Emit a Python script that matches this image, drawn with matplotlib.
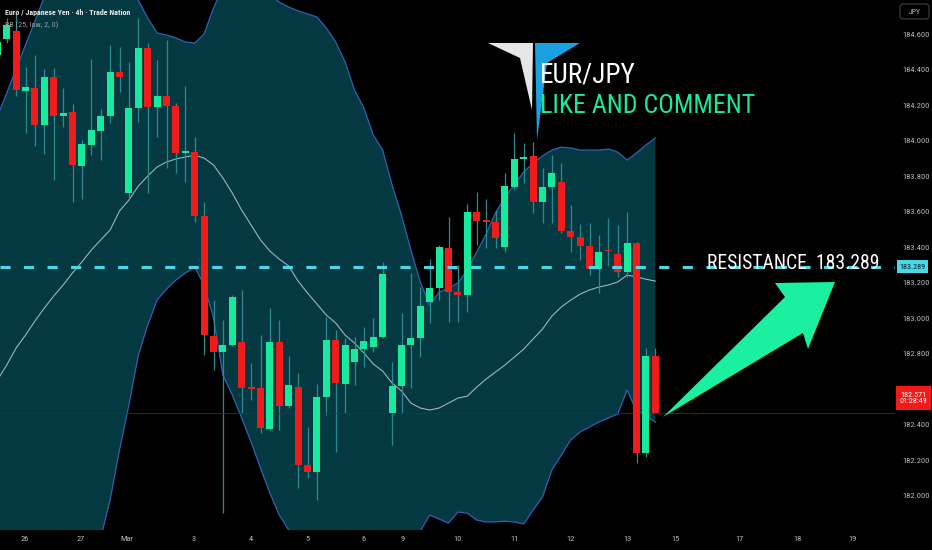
import matplotlib
matplotlib.use('Agg')
import numpy as np
import matplotlib.pyplot as plt
from matplotlib import font_manager
from matplotlib.patches import Polygon, Rectangle, FancyBboxPatch

# EUR/JPY 4h candles, index -1 is the cut one at the left edge
idx = np.arange(-1, 70)
opens = [184.482,
         184.570, 184.617, 184.281, 184.296, 184.087, 184.356, 184.140, 184.161, 183.858, 183.975,
         184.055, 184.138, 184.388, 183.703, 184.181, 184.519, 184.190, 184.251, 184.194, 183.930,
         183.937, 183.575, 182.899, 182.810, 182.848, 182.866, 182.610, 182.604, 182.375, 182.866,
         182.504, 182.610, 182.172, 182.134, 182.557, 182.876, 182.628, 182.754, 182.824, 182.835,
         182.895, 182.463, 182.617, 182.848, 182.886, 183.092, 183.167, 183.392, 183.145, 183.130,
         183.599, 183.545, 183.543, 183.402, 183.740, 183.896, 183.913, 183.656, 183.736, 183.768,
         183.493, 183.456, 183.404, 183.276, 183.380, 183.359, 183.261, 183.421, 182.238, 182.786]
highs = [184.600,
         184.690, 184.718, 184.416, 184.482, 184.403, 184.407, 184.294, 184.206, 184.003, 184.457,
         184.176, 184.538, 184.528, 184.444, 184.688, 184.548, 184.454, 184.566, 184.210, 184.307,
         184.021, 183.655, 183.101, 182.989, 183.130, 183.158, 182.745, 182.904, 183.055, 182.989,
         182.786, 182.688, 182.388, 182.628, 183.007, 182.932, 182.886, 182.895, 182.948, 182.998,
         183.317, 182.754, 183.026, 183.252, 183.176, 183.331, 183.411, 183.571, 183.299, 183.642,
         183.712, 183.669, 183.608, 183.815, 184.044, 183.984, 183.993, 183.843, 183.918, 183.872,
         183.637, 183.530, 183.534, 183.468, 183.562, 183.524, 183.599, 183.430, 182.829, 182.831]
lows = [184.450,
        184.550, 184.252, 184.044, 183.971, 183.924, 183.777, 184.078, 183.652, 183.670, 183.918,
        183.890, 184.097, 184.275, 183.674, 184.106, 183.703, 184.021, 183.843, 183.815, 183.768,
        183.543, 182.792, 182.707, 181.900, 182.840, 182.465, 182.540, 182.350, 182.369, 182.369,
        182.493, 182.041, 182.097, 181.975, 182.454, 182.247, 182.463, 182.623, 182.726, 182.810,
        182.886, 182.284, 182.463, 182.604, 182.779, 182.970, 183.101, 182.979, 182.979, 183.036,
        183.411, 183.393, 183.393, 183.373, 183.721, 183.759, 183.590, 183.537, 183.534, 183.477,
        183.374, 183.327, 183.242, 183.139, 183.299, 183.233, 183.233, 182.181, 182.219, 182.465]
closes = [184.555,
          184.651, 184.284, 184.300, 184.087, 184.359, 184.140, 184.153, 183.862, 183.979, 184.057,
          184.138, 184.386, 184.359, 184.185, 184.519, 184.190, 184.251, 184.194, 183.928, 183.937,
          183.575, 182.904, 182.810, 182.848, 183.120, 182.604, 182.600, 182.379, 182.866, 182.504,
          182.623, 182.172, 182.134, 182.557, 182.876, 182.632, 182.848, 182.824, 182.872, 182.895,
          183.248, 182.617, 182.848, 182.886, 183.068, 183.167, 183.398, 183.148, 183.130, 183.599,
          183.548, 183.540, 183.449, 183.744, 183.894, 183.909, 183.656, 183.740, 183.815, 183.493,
          183.456, 183.404, 183.276, 183.374, 183.375, 183.261, 183.421, 182.238, 182.786, 182.465]
# candle colour flags: 1 green, 0 red (dojis as seen on chart)
up = [1,
      1, 0, 1, 0, 1, 0, 1, 0, 1, 1,
      1, 1, 0, 1, 1, 0, 1, 0, 0, 1,
      0, 0, 0, 1, 1, 0, 0, 0, 1, 0,
      1, 0, 0, 1, 1, 0, 1, 1, 1, 1,
      1, 1, 1, 1, 1, 1, 1, 0, 0, 1,
      0, 0, 0, 1, 1, 1, 0, 1, 1, 0,
      0, 0, 0, 1, 0, 0, 1, 0, 1, 0]

# Bollinger bands (25, low, 2) as drawn
bb_upper = [184.133,
            184.268, 184.403, 184.538, 184.673, 184.809, 184.920, 184.980, 185.020, 185.040, 185.040,
            185.020, 184.980, 184.920, 184.860, 184.790, 184.690, 184.606, 184.594, 184.578, 184.555,
            184.549, 184.600, 184.747, 184.860, 184.920, 184.950, 184.930, 184.880, 184.820, 184.780,
            184.752, 184.730, 184.713, 184.696, 184.634, 184.555, 184.442, 184.285, 184.183, 184.031,
            183.946, 183.749, 183.580, 183.383, 183.203, 183.073, 183.146, 183.169, 183.197, 183.270,
            183.372, 183.473, 183.592, 183.682, 183.749, 183.823, 183.873, 183.913, 183.946, 183.963,
            183.958, 183.946, 183.946, 183.946, 183.952, 183.935, 183.890, 183.930, 183.975, 184.014]
bb_lower = [181.520,
            181.500, 181.450, 181.400, 181.400, 181.420, 181.450, 181.500, 181.550, 181.600, 181.680,
            181.760, 181.975, 182.256, 182.510, 182.790, 182.960, 183.101, 183.163, 183.214, 183.253,
            183.287, 183.186, 183.000, 182.679, 182.566, 182.437, 182.301, 182.155, 182.014, 181.890,
            181.806, 181.700, 181.620, 181.550, 181.500, 181.480, 181.480, 181.500, 181.550, 181.600,
            181.660, 181.720, 181.780, 181.770, 181.800, 181.890, 181.868, 181.845, 181.907, 181.901,
            181.862, 181.851, 181.851, 181.856, 181.851, 181.840, 181.918, 181.992, 182.144, 182.228,
            182.313, 182.358, 182.386, 182.414, 182.437, 182.459, 182.594, 182.476, 182.448, 182.414]
bb_basis = [182.650,
            182.735, 182.831, 182.904, 182.983, 183.056, 183.124, 183.186, 183.254, 183.316, 183.383,
            183.440, 183.496, 183.603, 183.665, 183.743, 183.800, 183.851, 183.879, 183.896, 183.907,
            183.918, 183.901, 183.862, 183.789, 183.704, 183.608, 183.524, 183.440, 183.377, 183.332,
            183.293, 183.208, 183.141, 183.079, 183.017, 182.972, 182.904, 182.859, 182.803, 182.741,
            182.701, 182.634, 182.589, 182.521, 182.493, 182.482, 182.493, 182.521, 182.549, 182.560,
            182.611, 182.656, 182.696, 182.735, 182.780, 182.825, 182.882, 182.938, 183.011, 183.062,
            183.101, 183.135, 183.158, 183.175, 183.186, 183.203, 183.242, 183.231, 183.219, 183.208]

resistance = 183.289
last_line = 182.465
last_price = "182.571"
countdown = "01:28:49"

date_labels = ['26', '27', 'Mar', '3', '4', '5', '6', '9', '10', '11', '12', '13', '15', '17', '18', '19']
date_pos = [1.95, 7.9, 12.8, 19.9, 26.0, 32.0, 38.0, 42.1, 48.0, 54.0, 60.0, 66.0, 71.1, 78.0, 84.1, 90.0]
price_ticks = np.arange(182.0, 184.61, 0.2)

names = {f.name for f in font_manager.fontManager.ttflist}
narrow = 'Roboto'
for cand in ['Liberation Sans Narrow', 'Roboto Condensed', 'DejaVu Sans Condensed',
             'Open Sans Condensed', 'Roboto']:
    if cand in names:
        narrow = cand
        break

GREEN = '#17ea9c'
RED = '#f01b1b'
WICK = '#2a8a90'
FILL = '#053942'
BAND = '#2f62b3'
BASIS = '#9db3b8'
CYAN = '#48d8e8'
AXTXT = '#b8bcc6'

W, H = 932, 550
fig = plt.figure(figsize=(W / 100, H / 100), dpi=100, facecolor='black')
ax = fig.add_axes([0, 20 / H, 895 / W, 530 / H])
ax.set_facecolor('black')

x = idx
ax.fill_between(x, bb_lower, bb_upper, color=FILL, lw=0, zorder=1)
ax.plot(x, bb_upper, color=BAND, lw=0.9, zorder=2)
ax.plot(x, bb_lower, color=BAND, lw=0.9, zorder=2)
ax.plot(x, bb_basis, color=BASIS, lw=0.8, zorder=2)

o = np.array(opens); c = np.array(closes)
cols = [GREEN if u else RED for u in up]
ax.vlines(x, lows, highs, color=WICK, lw=0.9, zorder=3)
ax.bar(x, np.maximum(np.abs(c - o), 0.011), bottom=np.minimum(o, c), width=0.74,
       color=cols, lw=0, zorder=4)

ax.axhline(last_line, color='#7a1212', lw=0.6, zorder=3)
ax.axhline(resistance, color=CYAN, lw=2.2, ls=(0, (3.3, 4.4)), zorder=5)

ax.set_xlim(-0.713, 94.5)
ax.set_ylim(181.806, 184.7916)
for s in ax.spines.values():
    s.set_visible(False)
ax.yaxis.tick_right()
ax.set_yticks(price_ticks)
# 182.600 sits under the last-price tag on the reference
ax.set_yticklabels(['' if abs(p - 182.6) < 1e-6 else f'{p:.3f}' for p in price_ticks])
ax.set_xticks(date_pos)
ax.set_xticklabels(date_labels)
ax.tick_params(axis='both', length=0, colors=AXTXT, labelsize=6.0)
ax.tick_params(axis='y', pad=5)
ax.tick_params(axis='x', pad=4)
for t in ax.get_xticklabels() + ax.get_yticklabels():
    t.set_family(narrow)

# overlay in pixel coords for the drawn annotations
ov = fig.add_axes([0, 0, 1, 1], zorder=10)
ov.set_xlim(0, W)
ov.set_ylim(H, 0)
ov.axis('off')

renderer = fig.canvas.get_renderer()


def fit(t, width):
    # shrink/grow the font so the text spans about the same pixels as on the reference
    w = t.get_window_extent(renderer).width
    t.set_fontsize(t.get_fontsize() * width / w)


t1 = ov.text(5, 15, 'Euro / Japanese Yen · 4h · Trade Nation', color='#e8e8e8', fontsize=6.4,
             fontweight='bold', family=narrow, va='baseline')
fit(t1, 125)
t2 = ov.text(5, 27, 'BB (25, low, 2, 0)', color='#9aa0a8', fontsize=6.4, family=narrow,
             va='baseline')
fit(t2, 52)

# logo
ov.add_patch(Polygon([(488, 43), (533, 43), (532, 110), (520, 58)], closed=True,
                     fc='#e6e6e6', ec='none'))
ov.add_patch(Polygon([(535, 43), (580, 43), (547, 63), (537, 140)], closed=True,
                     fc='#1ba1e2', ec='none'))
t3 = ov.text(540, 83, 'EUR/JPY', color='white', fontsize=20, family=narrow, va='baseline')
fit(t3, 95)
t4 = ov.text(540, 113, 'LIKE AND COMMENT', color=GREEN, fontsize=19, family=narrow,
             va='baseline')
fit(t4, 215)

t5 = ov.text(707, 269, 'RESISTANCE  183.289', color='white', fontsize=15, family=narrow,
             va='baseline')
fit(t5, 172)

# arrow
ov.add_patch(Polygon([(663, 417), (785, 297), (775, 283), (835, 282), (808, 349), (803, 333)],
                     closed=True, fc='#1af09f', ec='none'))

# price axis tags
ov.add_patch(Rectangle((897, 260), 31, 13, fc=CYAN, ec='none'))
ov.text(912.5, 266.8, f'{resistance:.3f}', color='#0b1a1f', fontsize=5.8, family=narrow,
        ha='center', va='center')
ov.add_patch(Rectangle((896, 386), 35, 24, fc=RED, ec='none'))
ov.text(913.5, 398, f'{last_price}\n{countdown}', color='white', fontsize=5.8, family=narrow,
        ha='center', va='center', linespacing=1.15)
ov.add_patch(FancyBboxPatch((900, 4), 29, 15, boxstyle='round,pad=0,rounding_size=3',
                            fc='black', ec='#3a3e48', lw=0.8))
ov.text(914.5, 11.5, 'JPY', color=AXTXT, fontsize=5.6, family=narrow, ha='center', va='center')

fig.savefig('out.png', dpi=100, facecolor='black')
